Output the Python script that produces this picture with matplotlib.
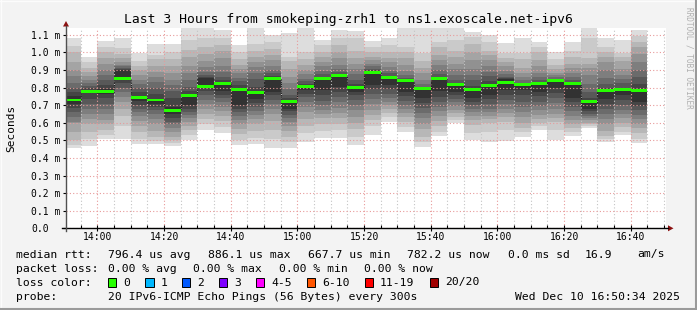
import matplotlib
matplotlib.use('Agg')
import matplotlib.pyplot as plt
from matplotlib.lines import Line2D
from matplotlib.patches import Polygon, Rectangle

# ---------------- data ----------------
bar_starts = ["13:50", "13:55", "14:00", "14:05", "14:10", "14:15", "14:20", "14:25",
              "14:30", "14:35", "14:40", "14:45", "14:50", "14:55", "15:00", "15:05",
              "15:10", "15:15", "15:20", "15:25", "15:30", "15:35", "15:40", "15:45",
              "15:50", "15:55", "16:00", "16:05", "16:10", "16:15", "16:20", "16:25",
              "16:30", "16:35", "16:40"]

# median rtt per 5-minute step, microseconds
median_us = [729, 776, 776, 850, 746, 729, 668, 752, 805, 822, 791, 771, 850, 719, 805,
             850, 867, 799, 886, 856, 839, 793, 850, 816, 788, 810, 827, 816, 822, 839,
             822, 719, 782, 786, 782]

# the 20 individual ping rtts per step (microseconds), as estimated from the smoke bands
pings_us = [
    [1079, 1038, 1000, 947, 899, 867, 824, 795, 776, 752, 706, 682, 659, 634, 606, 596, 545, 502, 473, 456],
    [975, 947, 909, 886, 867, 842, 824, 808, 795, 786, 766, 735, 708, 680, 650, 620, 590, 550, 505, 465],
    [1066, 1032, 1004, 966, 932, 899, 871, 842, 815, 790, 762, 740, 705, 680, 650, 615, 590, 560, 530, 510],
    [1079, 1025, 990, 965, 945, 930, 920, 910, 905, 900, 850, 825, 800, 775, 745, 715, 680, 640, 580, 505],
    [994, 950, 925, 898, 870, 845, 820, 800, 775, 750, 722, 700, 680, 660, 640, 610, 580, 550, 510, 480],
    [1047, 985, 960, 925, 890, 860, 830, 800, 765, 732, 705, 690, 670, 650, 620, 590, 555, 520, 495, 477],
    [1050, 1000, 960, 920, 880, 845, 815, 780, 740, 690, 652, 625, 605, 590, 570, 545, 520, 500, 485, 468],
    [1136, 1070, 1015, 975, 925, 880, 840, 805, 780, 756, 700, 680, 662, 645, 625, 605, 580, 560, 530, 502],
    [1140, 1080, 1030, 990, 950, 915, 890, 870, 860, 852, 805, 780, 755, 730, 705, 680, 650, 620, 590, 558],
    [1125, 1080, 1040, 1005, 965, 925, 890, 860, 840, 822, 780, 760, 740, 715, 690, 665, 640, 610, 575, 540],
    [1041, 1000, 960, 930, 905, 880, 855, 835, 812, 792, 702, 680, 660, 640, 615, 590, 565, 535, 500, 473],
    [1136, 1050, 1010, 975, 945, 915, 885, 850, 805, 770, 735, 712, 690, 668, 645, 620, 590, 555, 515, 480],
    [1100, 1060, 1020, 985, 955, 925, 900, 880, 865, 852, 776, 755, 730, 705, 680, 650, 610, 560, 510, 455],
    [1108, 975, 950, 905, 860, 825, 790, 760, 740, 720, 680, 665, 645, 625, 605, 580, 555, 520, 490, 455],
    [1140, 1000, 960, 930, 900, 875, 850, 835, 820, 806, 785, 765, 745, 720, 690, 660, 620, 580, 540, 490],
    [1070, 1040, 1000, 975, 945, 920, 895, 875, 862, 848, 785, 755, 725, 700, 675, 650, 625, 595, 555, 515],
    [1125, 1080, 1040, 1000, 965, 930, 905, 888, 875, 866, 805, 775, 745, 715, 685, 655, 625, 595, 560, 515],
    [1120, 1080, 1005, 965, 935, 905, 875, 845, 820, 800, 776, 755, 730, 700, 670, 635, 600, 565, 520, 473],
    [1066, 1030, 1000, 975, 955, 935, 920, 905, 897, 888, 815, 790, 765, 735, 705, 675, 645, 615, 580, 530],
    [1079, 1040, 1000, 970, 945, 915, 895, 880, 868, 857, 815, 790, 765, 740, 720, 700, 680, 655, 630, 606],
    [1136, 1030, 1003, 965, 930, 895, 870, 855, 845, 840, 776, 750, 725, 700, 680, 655, 630, 605, 575, 550],
    [1136, 995, 950, 910, 880, 845, 820, 805, 798, 795, 740, 712, 685, 655, 625, 595, 565, 520, 490, 464],
    [1136, 1060, 1030, 985, 955, 930, 900, 875, 860, 851, 780, 745, 715, 690, 665, 640, 610, 580, 550, 525],
    [1136, 1070, 1005, 975, 935, 905, 870, 845, 825, 815, 776, 755, 735, 715, 695, 675, 655, 635, 615, 600],
    [1115, 1085, 1050, 1000, 955, 905, 870, 840, 810, 790, 740, 720, 700, 680, 660, 640, 615, 585, 540, 502],
    [1098, 1060, 1005, 985, 955, 920, 890, 865, 835, 810, 760, 735, 705, 680, 660, 640, 620, 600, 550, 492],
    [1051, 995, 965, 945, 920, 895, 875, 862, 855, 850, 786, 760, 730, 705, 680, 655, 630, 605, 560, 497],
    [1079, 995, 960, 910, 880, 860, 840, 825, 818, 815, 786, 755, 720, 690, 660, 630, 600, 570, 545, 520],
    [1060, 1030, 1000, 955, 920, 885, 860, 840, 828, 821, 776, 750, 720, 695, 670, 645, 620, 600, 580, 558],
    [1003, 960, 930, 905, 885, 870, 860, 850, 845, 840, 795, 770, 740, 710, 680, 650, 625, 605, 560, 502],
    [1060, 1005, 975, 935, 910, 880, 860, 840, 828, 821, 740, 715, 690, 665, 640, 615, 590, 570, 550, 525],
    [1136, 1080, 970, 935, 910, 870, 820, 775, 740, 718, 680, 665, 650, 640, 628, 615, 600, 590, 580, 572],
    [1083, 1030, 1003, 975, 945, 900, 855, 820, 795, 781, 735, 705, 680, 650, 620, 590, 555, 525, 505, 492],
    [1070, 995, 975, 950, 905, 870, 850, 825, 800, 789, 760, 730, 700, 675, 650, 625, 600, 575, 550, 530],
    [1127, 1090, 1060, 1030, 990, 945, 900, 860, 820, 783, 720, 695, 670, 645, 620, 595, 570, 540, 505, 483],
]

x_tick_labels = ["14:00", "14:20", "14:40", "15:00", "15:20", "15:40", "16:00", "16:20", "16:40"]
y_tick_values = [0.0, 0.1, 0.2, 0.3, 0.4, 0.5, 0.6, 0.7, 0.8, 0.9, 1.0, 1.1]
y_tick_labels = ["0.0", "0.1 m", "0.2 m", "0.3 m", "0.4 m", "0.5 m", "0.6 m", "0.7 m",
                 "0.8 m", "0.9 m", "1.0 m", "1.1 m"]

loss_labels = ["0", "1", "2", "3", "4-5", "6-10", "11-19", "20/20"]
loss_colors = ["#26ff00", "#00b8ff", "#0059ff", "#7e00ff", "#ff00ff", "#ff5500", "#ff0000", "#a10000"]

title = "Last 3 Hours from smokeping-zrh1 to ns1.exoscale.net-ipv6"
view_start = "13:50:34"
view_end = "16:50:34"
step_min = 5

# ---------------- helpers ----------------
def to_min(s):
    parts = [int(p) for p in s.split(":")]
    m = parts[0] * 60 + parts[1]
    if len(parts) > 2:
        m += parts[2] / 60.0
    return m

W, H = 697, 310
MONO = "DejaVu Sans Mono"
fig = plt.figure(figsize=(W / 100, H / 100), dpi=100)
fig.patch.set_facecolor("#f3f3f3")

def fx(px):
    return px / W

def fy(py):
    return 1 - py / H

ax = fig.add_axes([fx(66), fy(228.3), 600 / W, 200 / H])
ax.set_facecolor("white")
for s in ax.spines.values():
    s.set_visible(False)

x0, x1 = to_min(view_start), to_min(view_end)
ax.set_xlim(x0, x1)
ax.set_ylim(0, 1.1364)

starts = [to_min(s) for s in bar_starts]

# smoke: nested bands, outermost lightest
half = 10
for k in range(half):
    g = int(190 / half * (half - (k + 1))) + 50
    col = "#%02x%02x%02x" % (g, g, g)
    lows, heights = [], []
    for p in pings_us:
        ps = sorted(p)
        lows.append(ps[k] / 1000.0)
        heights.append((ps[19 - k] - ps[k]) / 1000.0)
    ax.bar(starts, heights, bottom=lows, width=step_min, align="edge",
           color=col, linewidth=0, zorder=1)

# median: dark step connector + green band
med_ms = [m / 1000.0 for m in median_us]
edges = starts + [starts[-1] + step_min]
ax.stairs(med_ms, edges, color="#202020", linewidth=0.8, linestyle=(0, (1, 1)),
          baseline=None, zorder=3)
sw = 0.0085
ax.bar(starts, [2 * sw] * len(med_ms), bottom=[m - sw for m in med_ms], width=step_min,
       align="edge", color=loss_colors[0], linewidth=0, zorder=4)

# grid
major_x = [to_min(t) for t in x_tick_labels]
minor_x = [t for t in range(int(x0) // 5 * 5 + 5, int(x1) + 1, 5) if t not in major_x]
ax.set_xticks(major_x)
ax.set_xticklabels(x_tick_labels, family=MONO, fontsize=7)
ax.set_xticks(minor_x, minor=True)
ax.set_yticks(y_tick_values)
ax.set_yticklabels(y_tick_labels, family=MONO, fontsize=7)
for lab in ax.get_yticklabels():
    lab.set_horizontalalignment("left")
ax.set_axisbelow(False)
ax.grid(which="minor", axis="x", color="#c4c4c4", linestyle=(0, (1, 2)), linewidth=0.8)
ax.grid(which="major", axis="x", color="#e89a9a", linestyle=(0, (1, 2)), linewidth=0.8)
ax.grid(which="major", axis="y", color="#e89a9a", linestyle=(0, (1, 2)), linewidth=0.8)
ax.tick_params(axis="x", which="major", length=4, width=0.8, direction="inout", pad=1, colors="black")
ax.tick_params(axis="x", which="minor", length=2, width=0.8, direction="in", colors="black")
ax.tick_params(axis="y", which="major", length=2.5, width=0.8, direction="out", pad=22.5, colors="black")

# axis lines with arrows
fig.add_artist(Line2D([fx(62), fx(668)], [fy(228.3), fy(228.3)], color="black", lw=1.0))
fig.add_artist(Line2D([fx(66), fx(66)], [fy(231), fy(26)], color="#505050", lw=1.0))
fig.add_artist(Polygon([[fx(668), fy(225.3)], [fx(668), fy(231.3)], [fx(673.5), fy(228.3)]],
                       closed=True, color="#8b1010", lw=0))
fig.add_artist(Polygon([[fx(63), fy(26.5)], [fx(69), fy(26.5)], [fx(66), fy(21)]],
                       closed=True, color="#8b1010", lw=0))

# title and axis label
fig.text(fx(348), fy(19.5), title, family=MONO, fontsize=9.4, ha="center", va="center", color="black")
fig.text(fx(11), fy(128), "Seconds", family=MONO, fontsize=8, rotation=90, ha="center", va="center")
fig.text(fx(688.5), fy(58), "RRDTOOL / TOBI OETIKER", family=MONO, fontsize=5.6, rotation=-90,
         ha="center", va="center", color="#b0b0b0")

# legend area
FS = 8.2
def t(x, y, s, **kw):
    fig.text(fx(x), fy(y), s, family=MONO, fontsize=FS, va="center", **kw)

r1, r2, r3, r4 = 254.5, 268.5, 282.5, 296.5
t(16, r1, "median rtt:")
t(107.6, r1, "796.4 us avg")
t(207.6, r1, "886.1 us max")
t(307.6, r1, "667.7 us min")
t(407.0, r1, "782.2 us now")
t(507.6, r1, "0.0 ms sd")
t(585.0, r1, "16.9")
t(637.0, r1, "am/s")

t(16, r2, "packet loss:")
t(107.6, r2, "0.00 % avg")
t(193.3, r2, "0.00 % max")
t(279.0, r2, "0.00 % min")
t(364.4, r2, "0.00 % now")

t(16, r3, "loss color:")
box_x = [108, 145.3, 182, 219, 256, 307, 365, 430]
for bx, lab, c in zip(box_x, loss_labels, loss_colors):
    fig.add_artist(Rectangle((fx(bx), fy(r3 + 4.5)), 8.4 / W, 9.2 / H, facecolor=c,
                             edgecolor="black", lw=0.7))
    t(bx + 15, r3, lab)

t(16, r4, "probe:")
t(107.6, r4, "20 IPv6-ICMP Echo Pings (56 Bytes) every 300s")
t(680, r4, "Wed Dec 10 16:50:34 2025", ha="right")

# outer 3D border
fig.add_artist(Line2D([0, 1], [fy(0.5), fy(0.5)], color="#fcfcfc", lw=1))
fig.add_artist(Line2D([fx(0.5), fx(0.5)], [0, 1], color="#fcfcfc", lw=1))
fig.add_artist(Line2D([fx(695.5), fx(695.5)], [0, 1], color="#9a9a9a", lw=1.5))
fig.add_artist(Line2D([0, 1], [fy(308.5), fy(308.5)], color="#9a9a9a", lw=1.5))

fig.savefig("out.png", dpi=100, facecolor=fig.get_facecolor())
